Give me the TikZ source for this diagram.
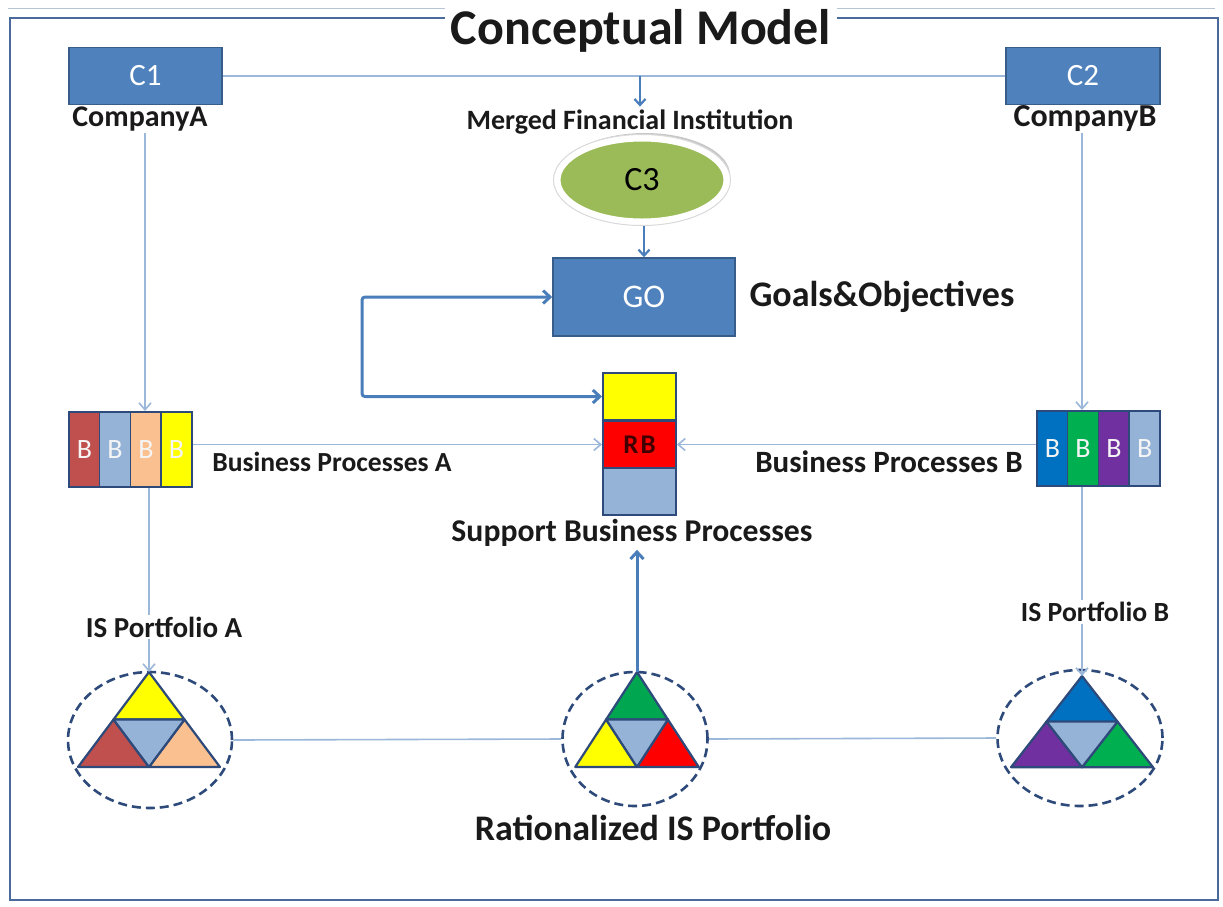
\documentclass[tikz,border=0pt]{standalone}
\usepackage{fontspec}
\setmainfont{Carlito}
\usetikzlibrary{arrows.meta,shapes.geometric,shadows}
\definecolor{boxblue}{HTML}{4F81BD}
\definecolor{boxedge}{HTML}{385D8A}
\definecolor{thinline}{HTML}{9BB7D9}
\definecolor{arrblue}{HTML}{4A7EBB}
\definecolor{framec}{HTML}{4A6A9C}
\definecolor{darkedge}{HTML}{2E4A7A}
\definecolor{redA}{HTML}{C0504D}
\definecolor{ltblue}{HTML}{95B3D7}
\definecolor{peach}{HTML}{FAC090}
\definecolor{yel}{HTML}{FFFF00}
\definecolor{blueB}{HTML}{0070C0}
\definecolor{greenB}{HTML}{00B050}
\definecolor{purpB}{HTML}{7030A0}
\definecolor{greenC}{HTML}{00A650}
\definecolor{redC}{HTML}{FF0000}
\definecolor{cthree}{HTML}{9BBB59}
\definecolor{txt}{HTML}{1A1A1A}
\newcommand{\fs}[1]{\fontsize{#1}{#1}\selectfont}
\tikzset{
  cbox/.style={rectangle, fill=boxblue, draw=boxedge, line width=1.5, text=white, inner sep=0},
  lbl/.style={inner sep=0, text=txt, font=\bfseries},
  stripe/.style={rectangle, draw=darkedge, line width=1.5, minimum width=30.75, minimum height=75, inner sep=0, text=white!92!gray, font=\fs{28}},
  rbcell/.style={rectangle, draw=darkedge, line width=2, minimum width=73, minimum height=47, inner sep=0},
  thinarr/.style={draw=thinline, line width=1.6, -{Straight Barb[length=7,width=12,line width=1.6]}},
  thinln/.style={draw=thinline, line width=1.6},
  blarr/.style={draw=arrblue, line width=2.2, -{Straight Barb[length=6,width=11,line width=2.2]}},
  thickarr/.style={draw=arrblue, line width=3, -{Straight Barb[length=7,width=13,line width=3]}},
  dell/.style={ellipse, draw=darkedge, line width=2.6, dash pattern=on 9 off 5, inner sep=0},
  tri/.style={draw=darkedge, line width=2.2, line join=round},
  pics/istri/.style n args={3}{code={
    \filldraw[tri, fill=#1] (0,0) -- (-35.5,47.5) -- (35.5,47.5) -- cycle;
    \filldraw[tri, fill=#2] (-35.5,47.5) -- (-71,95) -- (0,95) -- cycle;
    \filldraw[tri, fill=#3] (35.5,47.5) -- (0,95) -- (71,95) -- cycle;
    \filldraw[tri, fill=ltblue] (-35.5,47.5) -- (35.5,47.5) -- (0,95) -- cycle;
  }}
}
\begin{document}
\begin{tikzpicture}[x=1pt,y=-1pt]
\useasboundingbox (0,0) rectangle (1223,906);
\fill[white] (0,0) rectangle (1223,906);
\draw[framec!40, line width=1] (8,8) -- (1215,8);
% frame
\draw[framec, line width=2.5] (10,18) rectangle (1218,900);
\node[lbl, fill=white, inner xsep=6, inner ysep=2, font=\bfseries\fs{50}] (title) at (641,31) {Conceptual Model};

% top companies
\node[cbox, minimum width=153, minimum height=57, font=\fs{31}] (c1) at (145.5,76) {C1};
\node[cbox, minimum width=154, minimum height=57, font=\fs{31}] (c2) at (1083,76) {C2};
\node[lbl, font=\bfseries\fs{30}] (ca) at (140,119) {CompanyA};
\node[lbl, font=\bfseries\fs{32}] (cb) at (1085,119) {CompanyB};
\draw[thinln] (c1.east) -- (c2.west);
\coordinate (m1) at (640,76);
\node[lbl, font=\bfseries\fs{28}, inner ysep=3] (mfi) at (630,122) {Merged Financial Institution};
\draw[blarr] (m1) -- (m1 |- mfi.north);

% C3
\node[ellipse, fill=cthree, draw=white, line width=7, minimum width=170, minimum height=84, inner sep=0,
      drop shadow={shadow xshift=3, shadow yshift=-5, fill=gray!60, opacity=0.7}, font=\fs{34}] (c3) at (642,180) {C3};
\draw[gray!30, line width=1] (c3.center) ellipse [x radius=88.5, y radius=45.5];

% GO
\node[cbox, minimum width=182, minimum height=78, font=\fs{33}] (go) at (644,297) {GO};
\node[lbl, font=\bfseries\fs{36}] (goal) at (882,297) {Goals\&Objectives};
\draw[blarr] (c3.south -| go.north) -- (go.north);

% RB stack
\node[rbcell, fill=yel] (rby) at (639.5,396.5) {};
\node[rbcell, fill=redC, font=\bfseries\fs{27}, text=black!75!red] (rbr) at (639.5,444.5) {R\kern2ptB};
\node[rbcell, fill=ltblue] (rbl) at (639.5,491.5) {};
\node[lbl, font=\bfseries\fs{31.7}, inner ysep=3] (sbp) at (632,533) {Support Business Processes};

% loop
\coordinate (loop) at (362,340);
\draw[thickarr, {Straight Barb[length=7,width=13,line width=3]}-{Straight Barb[length=7,width=13,line width=3]}, rounded corners=3]
  (go.west) -| (loop) |- (rby.west);

% Business processes A
\node[stripe, fill=redA] (a1) at (84.4,449.5) {B};
\node[stripe, fill=ltblue] (a2) at (115.1,449.5) {B};
\node[stripe, fill=peach] (a3) at (145.9,449.5) {B};
\node[stripe, fill=yel] (a4) at (176.6,449.5) {B};
\node[rectangle, draw=darkedge, line width=2, minimum width=123, minimum height=75, inner sep=0] (bpa) at (130.5,449.5) {};
\node[lbl, font=\bfseries\fs{27.6}] (bpal) at (332,462) {Business Processes A};

% Business processes B
\node[stripe, fill=blueB] (b1) at (1052.4,448.5) {B};
\node[stripe, fill=greenB] (b2) at (1083.1,448.5) {B};
\node[stripe, fill=purpB] (b3) at (1113.9,448.5) {B};
\node[stripe, fill=ltblue] (b4) at (1144.6,448.5) {B};
\node[rectangle, draw=darkedge, line width=2, minimum width=123, minimum height=75, inner sep=0] (bpb) at (1098.5,448.5) {};
\node[lbl, font=\bfseries\fs{31}] (bpbl) at (889,462) {Business Processes B};

\draw[thinarr] (bpa.east |- rbr.west) -- (rbr.west);
\draw[thinarr] (bpb.west |- rbr.east) -- (rbr.east);

% company to BP
\coordinate (la) at (145,133);
\coordinate (lb) at (1082,133);
\draw[thinarr] (la) -- (la |- bpa.north);
\draw[thinarr] (lb) -- (lb |- bpb.north);

% portfolios
\node[dell, minimum width=164, minimum height=136] (ea) at (150,740) {};
\node[dell, minimum width=145, minimum height=134] (ec) at (635,739) {};
\node[dell, minimum width=165, minimum height=136] (eb) at (1080,738) {};
\draw[thinln] (ea.east) -- (ec.west);
\draw[thinln] (ec.east) -- (eb.west);

\coordinate (ta) at (149,672);
\coordinate (tc) at (637,672);
\coordinate (tb) at (1082,676);
\pic at (ta) {istri={yel}{redA}{peach}};
\pic[xscale=0.87] at (tc) {istri={greenC}{yel}{redC}};
\pic[yscale=0.96] at (tb) {istri={blueB}{purpB}{greenB}};

\draw[thinarr] (ta |- bpa.south) -- (ta);
\draw[thinarr] (tb |- bpb.south) -- (tb);
\node[lbl, fill=white, inner sep=2, font=\bfseries\fs{29}] (ipa) at (164,627) {IS Portfolio A};
\node[lbl, fill=white, inner sep=2, font=\bfseries\fs{27.7}] (ipb) at (1095,612) {IS Portfolio B};

\draw[thickarr] (tc) -- (sbp.south -| tc);
\node[lbl, font=\bfseries\fs{36}] (rip) at (653,828) {Rationalized IS Portfolio};
\end{tikzpicture}
\end{document}
